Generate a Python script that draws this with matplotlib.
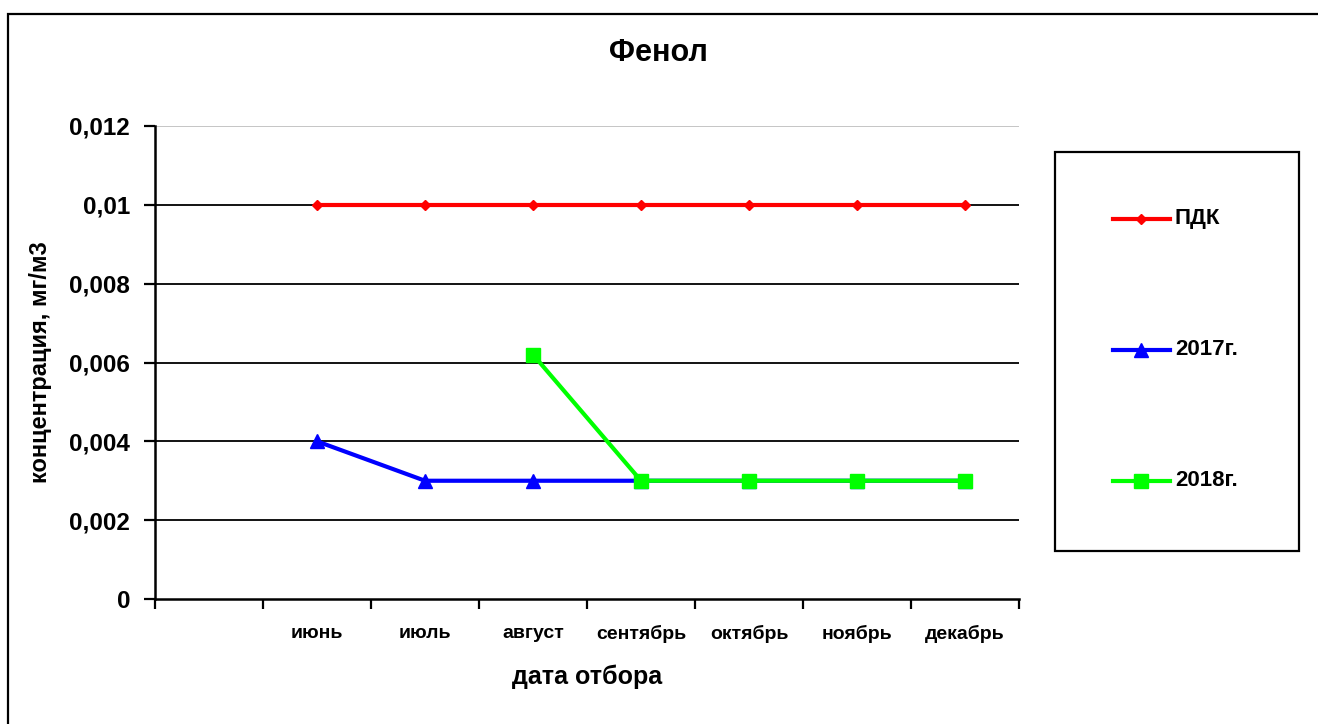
import numpy as np
import matplotlib
matplotlib.use("Agg")
import matplotlib.pyplot as plt
from matplotlib.lines import Line2D
from matplotlib.patches import Rectangle

plt.rcParams['font.family'] = ['Liberation Sans', 'DejaVu Sans']
plt.rcParams['font.weight'] = 'bold'

categories = ["", "июнь", "июль", "август", "сентябрь", "октябрь", "ноябрь", "декабрь"]
pdk = [np.nan, 0.01, 0.01, 0.01, 0.01, 0.01, 0.01, 0.01]
y2017 = [np.nan, 0.004, 0.003, 0.003, 0.003, 0.003, 0.003, 0.003]
y2018 = [np.nan, np.nan, np.nan, 0.0062, 0.003, 0.003, 0.003, 0.003]
series_names = ["ПДК", "2017г.", "2018г."]
yticks = [0, 0.002, 0.004, 0.006, 0.008, 0.01, 0.012]
ytick_labels = ["0", "0,002", "0,004", "0,006", "0,008", "0,01", "0,012"]

W, H = 1318, 724
fig = plt.figure(figsize=(W / 100, H / 100), dpi=100)
fig.patch.set_facecolor('white')

# outer frame (left & top visible)
fig.add_artist(Rectangle((7.5 / W, -0.05), 1.2, (H - 13.5) / H + 0.05,
                         transform=fig.transFigure, fill=False,
                         edgecolor='black', linewidth=1.6))

ax = fig.add_axes([155 / W, (H - 599) / H, (1019 - 155) / W, (599 - 126) / H])
n = len(categories)
x = np.arange(n) + 0.5

ax.set_xlim(0, n)
ax.set_ylim(0, 0.012)

for yv in yticks[1:]:
    col = '#C0C0C0' if yv == 0.012 else 'black'
    ax.axhline(yv, color=col, linewidth=1.3, zorder=1)

styles = [
    dict(color='#FF0000', marker='D', markersize=5),
    dict(color='#0000FF', marker='^', markersize=10),
    dict(color='#00FF00', marker='s', markersize=10),
]
for vals, st in zip([pdk, y2017, y2018], styles):
    ax.plot(x, vals, linewidth=3, zorder=3, **st)

for s in ['top', 'right']:
    ax.spines[s].set_visible(False)
for s in ['left', 'bottom']:
    ax.spines[s].set_linewidth(1.8)

ax.set_yticks(yticks)
ax.set_yticklabels(ytick_labels, fontsize=17.5, fontweight='bold')
ax.tick_params(axis='y', length=8, width=1.6, pad=10)

ax.set_xticks(np.arange(n + 1))
ax.set_xticklabels([])
ax.tick_params(axis='x', which='major', length=7, width=1.6)
ax.set_xticks(x, minor=True)
ax.set_xticklabels(categories, minor=True, fontsize=14, fontweight='bold')
ax.tick_params(axis='x', which='minor', length=0, pad=18.5)

ax.set_xlabel("дата отбора", fontsize=18, fontweight='bold', labelpad=16)
ax.set_ylabel("концентрация, мг/м3", fontsize=17, fontweight='bold', labelpad=12)

fig.text(658 / W, 1 - 53 / H, "Фенол", fontsize=22, fontweight='bold',
         ha='center', va='center')

# legend box
fig.add_artist(Rectangle((1055 / W, 1 - 551 / H), (1299 - 1055) / W, (551 - 152) / H,
                         transform=fig.transFigure, fill=False,
                         edgecolor='black', linewidth=1.6))
leg_y = [219, 350, 481]
for name, st, yy in zip(series_names, styles, leg_y):
    fig.add_artist(Line2D([1113 / W, 1170 / W], [1 - yy / H, 1 - yy / H],
                          transform=fig.transFigure, linewidth=3,
                          color=st['color'], linestyle='-'))
    fig.add_artist(Line2D([1141 / W], [1 - yy / H], transform=fig.transFigure,
                          color=st['color'], marker=st['marker'],
                          markersize=st['markersize'], linestyle='none'))
    fig.text(1175 / W, 1 - yy / H, name, fontsize=16, fontweight='bold',
             ha='left', va='center')

fig.savefig("out.png", dpi=100)
